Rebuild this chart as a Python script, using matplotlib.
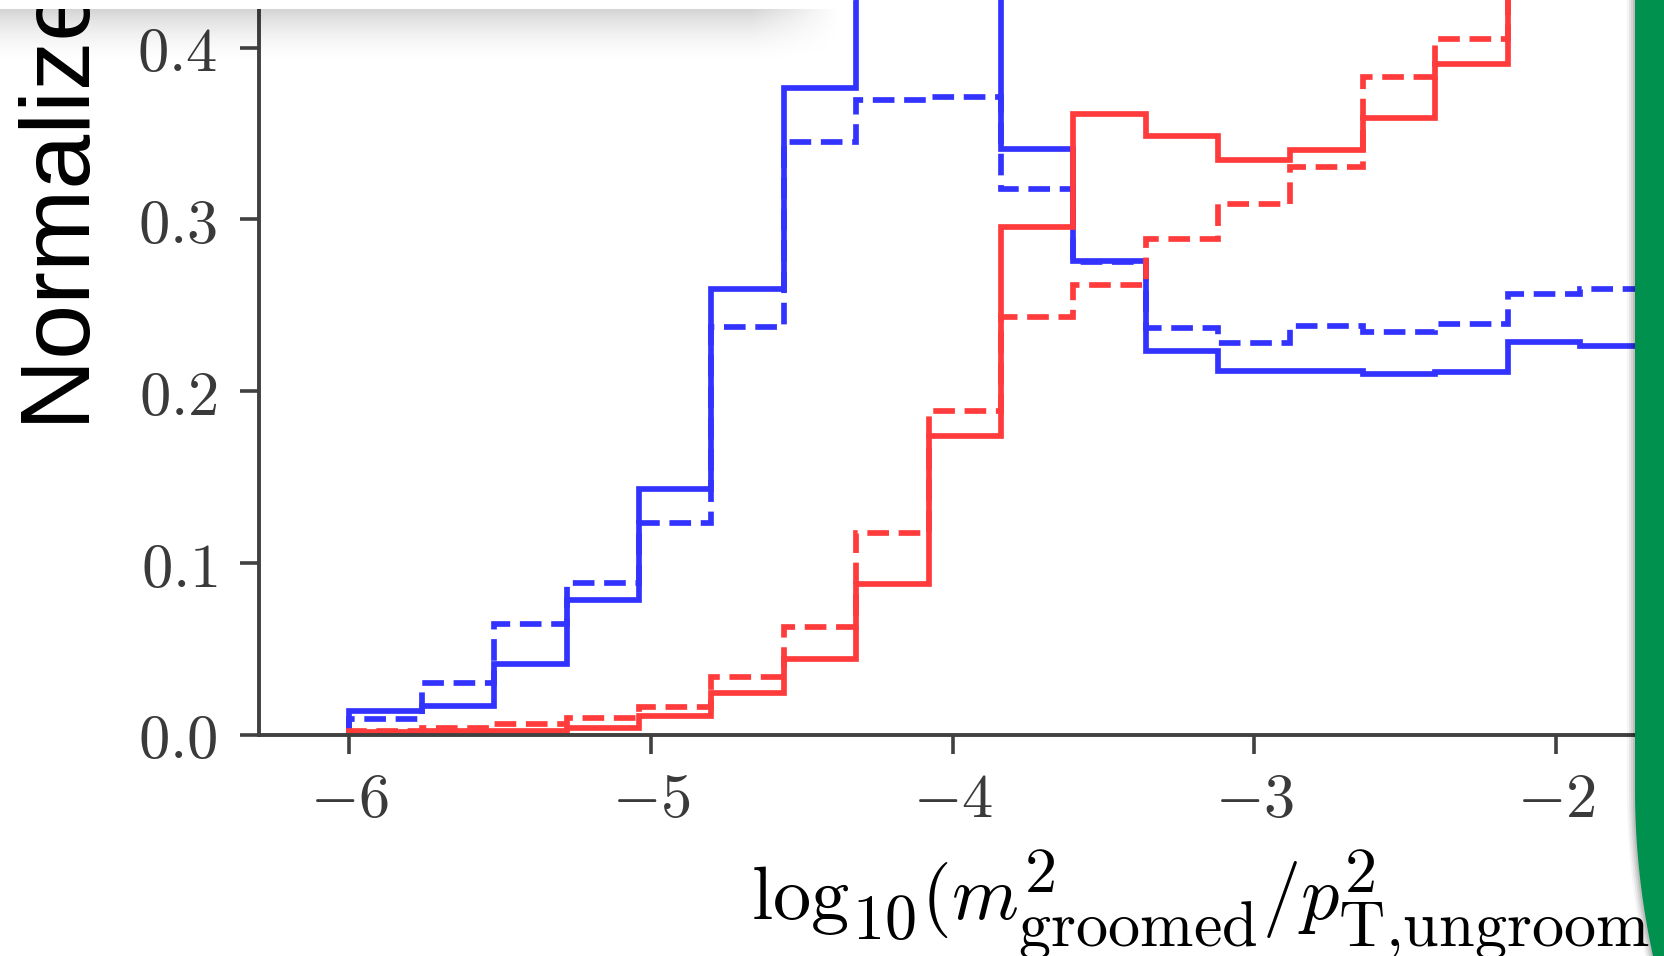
import numpy as np
import matplotlib.pyplot as plt
from matplotlib.patches import Polygon
import matplotlib._mathtext as mt

plt.rcParams['mathtext.fontset'] = 'cm'
# LaTeX uses wider optical sizes for subscripts; approximate with a milder shrink
try:
    mt.SHRINK_FACTOR = 0.84
    mt.ComputerModernFontConstants.sub1 = 0.3
    mt.ComputerModernFontConstants.sub2 = 0.42
    mt.ComputerModernFontConstants.sup1 = 0.4
except Exception:
    pass

# 25 bins of width 0.24 on [-6, 0]; only the first 18 are inside the crop
edges = np.linspace(-6.0, 0.0, 26)[:19]

blue_solid = [0.0138, 0.0168, 0.0410, 0.0787, 0.1428, 0.2595, 0.3765, 0.480, 0.460,
              0.3408, 0.2755, 0.2235, 0.2118, 0.2118, 0.2100, 0.2114, 0.2284, 0.2265]
blue_dashed = [0.0090, 0.0300, 0.0647, 0.0884, 0.1231, 0.2372, 0.3453, 0.3695, 0.3710,
               0.3178, 0.2752, 0.2366, 0.2282, 0.2380, 0.2345, 0.2390, 0.2564, 0.2595]
red_solid = [0.0015, 0.0020, 0.0025, 0.0038, 0.0110, 0.0241, 0.0439, 0.0876, 0.1739,
             0.2958, 0.3614, 0.3486, 0.3346, 0.3404, 0.3588, 0.3905, 0.4290, 0.470]
red_dashed = [0.0020, 0.0040, 0.0065, 0.0095, 0.0163, 0.0338, 0.0629, 0.1176, 0.1882,
              0.2434, 0.2618, 0.2886, 0.3090, 0.3307, 0.3827, 0.4050, 0.450, 0.460]

xticks = [-6, -5, -4, -3, -2, -1, 0]
xtick_labels = [r'$-6$', r'$-5$', r'$-4$', r'$-3$', r'$-2$', r'$-1$', r'$0$']
yticks = [0.0, 0.1, 0.2, 0.3, 0.4, 0.5, 0.6]
ytick_labels = [r'$0.0$', r'$0.1$', r'$0.2$', r'$0.3$', r'$0.4$', r'$0.5$', r'$0.6$']

W, H = 1665, 956
fig = plt.figure(figsize=(W / 100, H / 100), dpi=100)

# the plot is a crop of a larger slide: the axes run past the figure edges
ax = fig.add_axes([259 / W, (H - 734.8) / H, 1990.6 / W, 0.6 * 1718 / H])
ax.set_xlim(-6.3, 0.3)
ax.set_ylim(0, 0.6)

lw = 4.1
dash = (0, (3.8, 1.7))
ax.stairs(blue_solid, edges, color='#3333ff', lw=lw)
ax.stairs(blue_dashed, edges, color='#3333ff', lw=lw, linestyle=dash)
ax.stairs(red_solid, edges, color='#ff3b3b', lw=lw)
ax.stairs(red_dashed, edges, color='#ff3b3b', lw=lw, linestyle=dash)

spine_c = '#404040'
for s in ['top', 'right']:
    ax.spines[s].set_visible(False)
for s in ['left', 'bottom']:
    ax.spines[s].set_color(spine_c)
    ax.spines[s].set_linewidth(2.8)

ax.set_xticks(xticks)
ax.set_xticklabels(xtick_labels)
ax.set_yticks(yticks)
ax.set_yticklabels(ytick_labels)
ax.tick_params(axis='both', direction='out', length=14, width=2.6, color=spine_c,
               labelcolor='#3a3a3a', labelsize=45)
ax.tick_params(axis='x', pad=11)
ax.tick_params(axis='y', pad=16)

fig.text(751 / W, (H - 920) / H,
         r'$\mathrm{log}_{10}(m^2_{\text{groomed}}/p^2_{\text{T,ungroomed}})$',
         ha='left', va='baseline', fontsize=55, color='black')

fig.text(90 / W, (H - 430) / H, 'Normalized counts', rotation=90,
         rotation_mode='anchor', ha='left', va='baseline',
         fontsize=71, family='Liberation Sans', color='black')

# slide decorations on top: white box with shadow, green frame
ov = fig.add_axes([0, 0, 1, 1], zorder=10)
ov.set_xlim(0, W)
ov.set_ylim(H, 0)
ov.axis('off')
ov.patch.set_alpha(0)

ys = np.linspace(0, 1, 60)[:, None]
xs = np.arange(900)[None, :]
alpha = 0.17 * (1 - ys) ** 2 * np.clip((840 - xs) / 90, 0, 1)
shadow = np.zeros((60, 900, 4))
shadow[..., 3] = alpha
ov.imshow(shadow, extent=[0, 900, 70, 9], origin='upper', aspect='auto',
          interpolation='bilinear')
ov.add_patch(Polygon([(0, -5), (885, -5), (800, 9), (0, 9)], closed=True,
                     facecolor='white', edgecolor='none'))

R = 774
yy = np.linspace(790, 970, 40)
xx = 1635 + R - np.sqrt(R ** 2 - (yy - 790) ** 2)
green_pts = [(1635, -5)] + list(zip(xx, yy)) + [(1700, 970), (1700, -5)]
for k, a in enumerate([0.04, 0.06, 0.08, 0.10]):
    off = 8 - 2 * k
    ov.add_patch(Polygon([(x - off, y) for x, y in green_pts], closed=True,
                         facecolor='black', alpha=a, edgecolor='none'))
ov.add_patch(Polygon(green_pts, closed=True, facecolor='#00914f', edgecolor='none'))
ov.set_xlim(0, W)
ov.set_ylim(H, 0)

fig.savefig('out.png', dpi=100)
